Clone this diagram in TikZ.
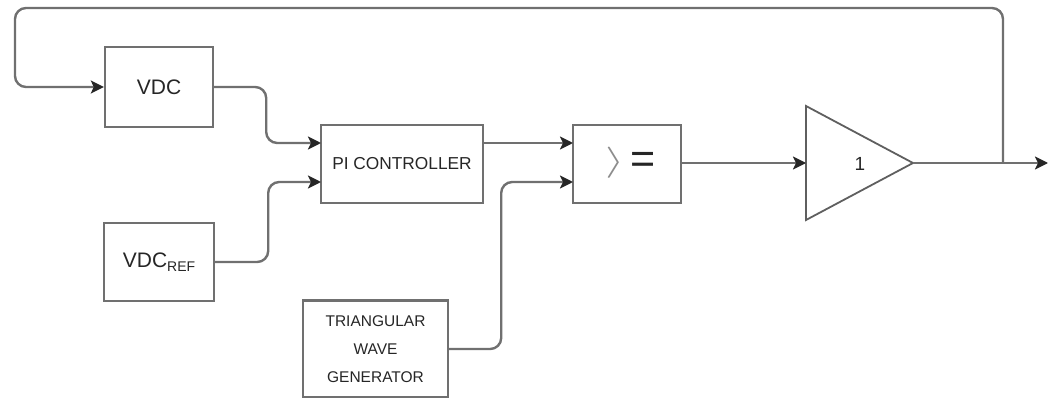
\documentclass[tikz,border=0pt]{standalone}
\usepackage{fontspec}
\setmainfont{Liberation Sans}
\usetikzlibrary{arrows.meta}
\definecolor{linegray}{HTML}{707070}
\definecolor{textdark}{HTML}{262626}
\tikzset{
  blockbox/.style={draw=linegray, line width=2.4pt, fill=white, rectangle,
    inner sep=0pt, text=textdark},
  wire/.style={draw=linegray, line width=2.4pt, rounded corners=11pt},
  arrowwire/.style={wire, -{Stealth[length=13pt,width=13pt,inset=3pt,color=black!85]}},
}
\begin{document}
\begin{tikzpicture}[x=1pt,y=-1pt]
  \useasboundingbox (0,0) rectangle (1048,398);

  % blocks
  \node[blockbox, minimum width=108pt, minimum height=80pt,
        font=\fontsize{21}{23}\selectfont] (vdc) at (159,87) {VDC};
  \node[blockbox, minimum width=110pt, minimum height=78pt,
        font=\fontsize{21}{23}\selectfont] (vdcref) at (159,262)
        {VDC\raisebox{-4pt}{\fontsize{14}{15}\selectfont REF}};
  \node[blockbox, minimum width=162pt, minimum height=78pt,
        font=\fontsize{17.3}{19}\selectfont] (pi) at (402,164) {PI CONTROLLER};
  \node[blockbox, minimum width=108pt, minimum height=78pt] (cmp) at (627,164) {};
  \node[text=linegray!80, inner sep=0pt, font=\fontsize{29}{29}\selectfont]
        (cmpgt) at (615,163) {\scalebox{2.0}[1.25]{$\rangle$}};
  \node[text=textdark, inner sep=0pt, font=\fontsize{43}{43}\selectfont]
        (cmpeq) at (643,163) {=};
  \node[blockbox, minimum width=145pt, minimum height=97pt, align=center,
        font=\fontsize{15.5}{28}\selectfont] (tri) at (375.5,349)
        {TRIANGULAR\\WAVE\\GENERATOR};

  % gain block
  \coordinate (gin) at (806,163);
  \coordinate (gout) at (913,163);
  \draw[draw=linegray!85!black, line width=1.8pt, line join=miter]
    (806,106) -- (gout) -- (806,220) -- cycle;
  \node[text=textdark, font=\fontsize{19}{21}\selectfont] (gain) at (860,164) {1};

  % port coordinates
  \coordinate (pi1) at (321,143);
  \coordinate (pi2) at (321,182);
  \coordinate (pio) at (483,143);
  \coordinate (cmp1) at (573,143);
  \coordinate (cmp2) at (573,182);
  \coordinate (cmpo) at (681,163);
  \coordinate (junc) at (1003,163);
  \coordinate (loopleft) at (15,8);
  \coordinate (outend) at (1048,163);

  % connectors
  \draw[arrowwire] (vdc.east) -- ++(52,0) |- (pi1);
  \draw[arrowwire] (vdcref.east) -- ++(53,0) |- (pi2);
  \draw[arrowwire] (pio) -- (cmp1);
  \draw[arrowwire] (tri.east) -- ++(52,0) |- (cmp2);
  \draw[arrowwire] (cmpo) -- (gin);
  \draw[arrowwire] (gout) -- (outend);
  \draw[arrowwire] (junc) |- (loopleft) |- (vdc.west);
\end{tikzpicture}
\end{document}
